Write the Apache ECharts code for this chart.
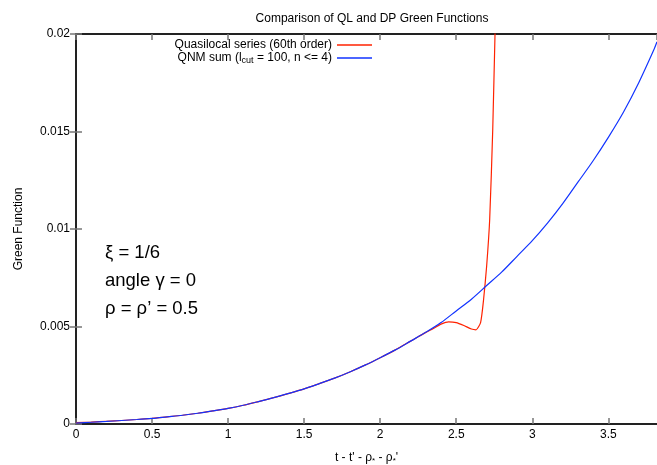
<!DOCTYPE html>
<html>
<head>
<meta charset="utf-8">
<script src="https://cdn.jsdelivr.net/npm/echarts@6/dist/echarts.min.js"></script>
<style>html,body{margin:0;padding:0;background:#fff}#c{width:657px;height:465px}</style>
</head>
<body>
<div id="c"></div>
<script>
// ---- data ----
const xBlue = [0, 0.1, 0.2, 0.3, 0.4, 0.5, 0.6, 0.7, 0.8, 0.9, 1.0, 1.1, 1.2, 1.3, 1.4, 1.5, 1.6, 1.7, 1.8, 1.9, 2.0,
               2.1, 2.2, 2.3, 2.4, 2.5, 2.6, 2.7, 2.8, 2.9, 3.0, 3.1, 3.2, 3.3, 3.4, 3.5, 3.6, 3.7, 3.8, 3.82];
const gBlue = [0.00005, 0.00009, 0.00013, 0.00018, 0.00023, 0.00029, 0.00037, 0.00045, 0.00055, 0.00067, 0.0008,
               0.00096, 0.00115, 0.00135, 0.00157, 0.0018, 0.00207, 0.00235, 0.00267, 0.00302, 0.0034,
               0.0038, 0.00425, 0.0047, 0.0052, 0.0058, 0.0064, 0.0071, 0.0078, 0.0086, 0.0094,
               0.0103, 0.0113, 0.0124, 0.0135, 0.0147, 0.0160, 0.0175, 0.0192, 0.0196];
const xRed = [0, 0.1, 0.2, 0.3, 0.4, 0.5, 0.6, 0.7, 0.8, 0.9, 1.0, 1.1, 1.2, 1.3, 1.4, 1.5, 1.6, 1.7, 1.8, 1.9, 2.0,
              2.1, 2.2, 2.25, 2.3, 2.35, 2.4, 2.45, 2.5, 2.55, 2.6, 2.63, 2.66, 2.68, 2.7, 2.72, 2.74, 2.755, 2.77];
const gRed = [0.00007, 0.0001, 0.00014, 0.00018, 0.00023, 0.00029, 0.00037, 0.00045, 0.00055, 0.00067, 0.0008,
              0.00096, 0.00115, 0.00135, 0.00157, 0.0018, 0.00207, 0.00235, 0.00267, 0.00302, 0.0034,
              0.0038, 0.00425, 0.00447, 0.0047, 0.0049, 0.00512, 0.00524, 0.0052, 0.00505, 0.00487, 0.00483,
              0.0052, 0.0064, 0.0081, 0.0105, 0.0151, 0.020, 0.024];
const xTicks = [0, 0.5, 1, 1.5, 2, 2.5, 3, 3.5];
const yTicks = [0, 0.005, 0.01, 0.015, 0.02];
const seriesNames = ['Quasilocal series (60th order)', 'QNM sum (l_cut = 100, n <= 4)'];
const titleText = 'Comparison of QL and DP Green Functions';
const notes = ['\u03be = 1/6', 'angle \u03b3 = 0', '\u03c1 = \u03c1\u2019 = 0.5'];

const FONT = '"Liberation Sans", Arial, Helvetica, sans-serif';
const chart = echarts.init(document.getElementById('c'), null, {renderer: 'canvas'});

const axisBase = {
  type: 'value',
  splitLine: {show: false},
  axisLine: {show: true, onZero: false, lineStyle: {color: '#222', width: 2}},
  axisTick: {show: true, inside: true, length: 6, lineStyle: {color: '#777', width: 1.5}},
};

chart.setOption({
  animation: false,
  backgroundColor: '#fff',
  title: {
    text: titleText, left: 367, top: 8, textAlign: 'center',
    textStyle: {fontFamily: FONT, fontSize: 12, fontWeight: 'normal', color: '#000'}
  },
  grid: {left: 76, right: 0, top: 34, bottom: 41, containLabel: false, outerBoundsMode: 'none'},
  legend: {
    orient: 'vertical', right: 285, top: 39, align: 'right', padding: 0,
    icon: 'rect', itemWidth: 35, itemHeight: 1.3, itemGap: 1,
    textStyle: {
      fontFamily: FONT, fontSize: 12, color: '#000',
      rich: {sub: {fontFamily: FONT, fontSize: 9, color: '#000', padding: [6, 0, 0, 0]}}
    },
    formatter: function (n) {
      if (n === seriesNames[1]) return 'QNM sum (l{sub|cut} = 100, n <= 4)';
      return n;
    },
    data: seriesNames
  },
  xAxis: [
    Object.assign({}, axisBase, {
      min: 0, max: 3.82, interval: 0.5, position: 'bottom',
      name: 't - t\' - \u03c1{s|*} - \u03c1{s|*}\'', nameLocation: 'middle', nameGap: 27,
      nameTextStyle: {fontFamily: FONT, fontSize: 12, color: '#000',
        rich: {s: {fontSize: 8, padding: [6, 0, 0, 0]}}},
      axisLabel: {fontFamily: FONT, fontSize: 12, color: '#000', margin: 5, showMaxLabel: false,
        formatter: v => (xTicks.indexOf(Math.round(v * 100) / 100) >= 0 ? String(v) : '')}
    }),
    Object.assign({}, axisBase, {
      min: 0, max: 3.82, interval: 0.5, position: 'top',
      axisLabel: {show: false}
    })
  ],
  yAxis: [
    Object.assign({}, axisBase, {
      min: 0, max: 0.02, interval: 0.005, position: 'left',
      name: 'Green Function', nameLocation: 'middle', nameGap: 51, nameRotate: 90,
      nameTextStyle: {fontFamily: FONT, fontSize: 12, color: '#000'},
      axisLabel: {fontFamily: FONT, fontSize: 12, color: '#000', margin: 6,
        formatter: v => { const t = yTicks.find(k => Math.abs(k - v) < 1e-9); return t === undefined ? '' : String(t); }}
    }),
    Object.assign({}, axisBase, {
      min: 0, max: 0.02, interval: 0.005, position: 'right',
      axisLine: {show: false}, axisLabel: {show: false}
    })
  ],
  graphic: notes.map((t, i) => ({
    type: 'text', left: 105, top: 243 + i * 28,
    style: {text: t, fontFamily: FONT, fontSize: 18.5, fill: '#000'}
  })),
  series: [
    {
      name: seriesNames[0], type: 'line', xAxisIndex: 0, yAxisIndex: 0,
      data: xRed.map((x, i) => [x, gRed[i]]),
      smooth: 0.2, symbol: 'none', clip: true,
      lineStyle: {color: '#ff2200', width: 1.2}, itemStyle: {color: '#ff2200'}, z: 3
    },
    {
      name: seriesNames[1], type: 'line', xAxisIndex: 0, yAxisIndex: 0,
      data: xBlue.map((x, i) => [x, gBlue[i]]),
      smooth: 0.3, symbol: 'none', clip: true,
      lineStyle: {color: '#1133ff', width: 1.2}, itemStyle: {color: '#1133ff'}, z: 4
    }
  ]
});
</script>
</body>
</html>
